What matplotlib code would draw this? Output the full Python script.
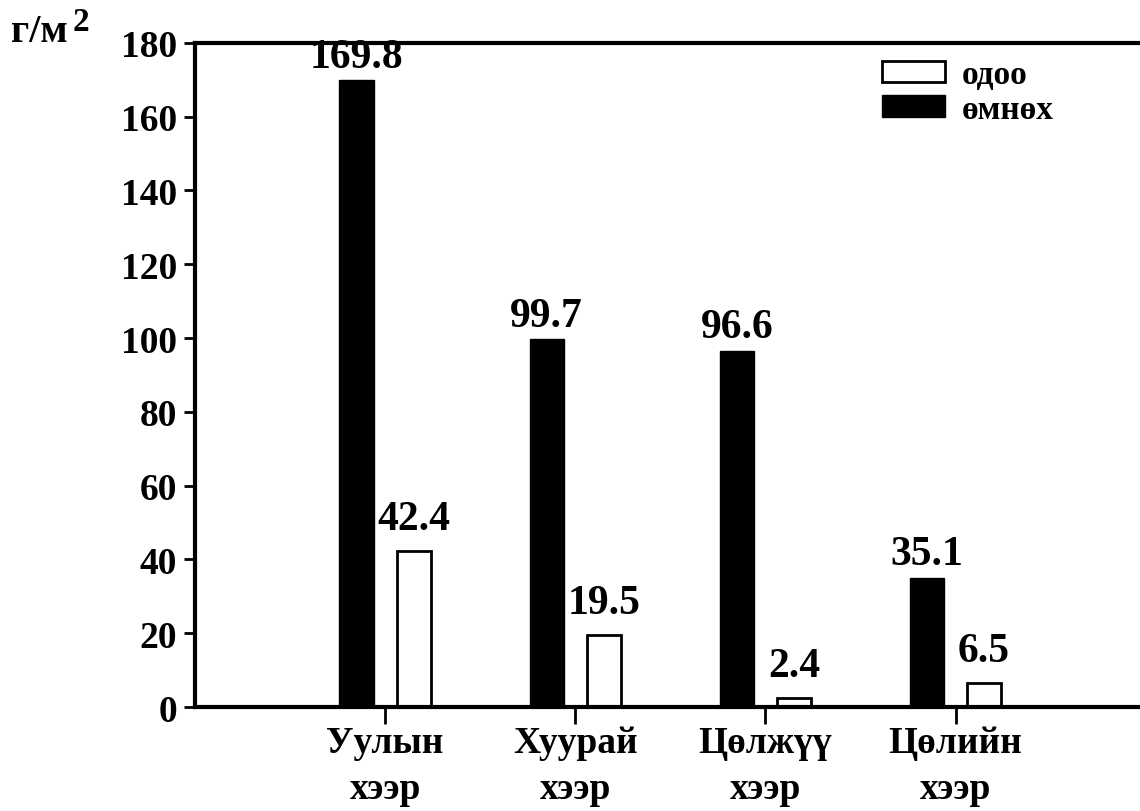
import numpy as np
import matplotlib.pyplot as plt

plt.rcParams['font.family'] = ['Liberation Serif', 'DejaVu Serif']
plt.rcParams['font.weight'] = 'bold'

# Data
Categories = ['Уулын\nхээр', 'Хуурай\nхээр', 'Цөлжүү\nхээр', 'Цөлийн\nхээр']
Before = [169.8, 99.7, 96.6, 35.1]   # өмнөх
Now = [42.4, 19.5, 2.4, 6.5]         # одоо
Y_Ticks = [0, 20, 40, 60, 80, 100, 120, 140, 160, 180]

Fig = plt.figure(figsize=(11.4, 8.12), dpi=100)
Ax = Fig.add_axes([0.171, 0.128, 0.829, 0.818])

X = np.arange(1, len(Categories) + 1)
Width = 0.18
Offset = 0.15

Bars_Now = Ax.bar(X + Offset, Now, Width, color='white', edgecolor='black', linewidth=2, label='одоо')
Bars_Before = Ax.bar(X - Offset, Before, Width, color='black', edgecolor='black', linewidth=1, label='өмнөх')

# value labels
for Bar, Val in zip(Bars_Before, Before):
    Ax.text(Bar.get_x() + Bar.get_width() / 2, Val + 1.2, f'{Val}', ha='center', va='bottom',
            fontsize=30, fontweight='bold')
for Bar, Val in zip(Bars_Now, Now):
    Ax.text(Bar.get_x() + Bar.get_width() / 2, Val + 3.5, f'{Val}', ha='center', va='bottom',
            fontsize=30, fontweight='bold')

Ax.set_xlim(0, 4.97)
Ax.set_ylim(0, 180)
Ax.set_yticks(Y_Ticks)
Ax.set_xticks(X)
Ax.set_xticklabels(Categories, fontsize=27, fontweight='bold', linespacing=1.4)
Ax.tick_params(axis='y', direction='out', length=8, width=2, labelsize=27, pad=5)
Ax.tick_params(axis='x', direction='out', length=12, width=2, pad=1)

for Side in ['left', 'top', 'bottom']:
    Ax.spines[Side].set_linewidth(3)
Ax.spines['right'].set_visible(False)

# legend with white box first
Ax.legend(handles=[Bars_Now, Bars_Before], loc='upper left', bbox_to_anchor=(0.727, 0.975),
          frameon=False, fontsize=24, handlelength=1.9, handleheight=0.6,
          handletextpad=0.5, labelspacing=0.1, borderpad=0, borderaxespad=0)

# unit label
Fig.text(0.01, 0.948, 'г/м', fontsize=29, fontweight='bold', va='baseline')
Fig.text(0.064, 0.962, '2', fontsize=24, fontweight='bold', va='baseline')

plt.savefig('out.png', dpi=100)
